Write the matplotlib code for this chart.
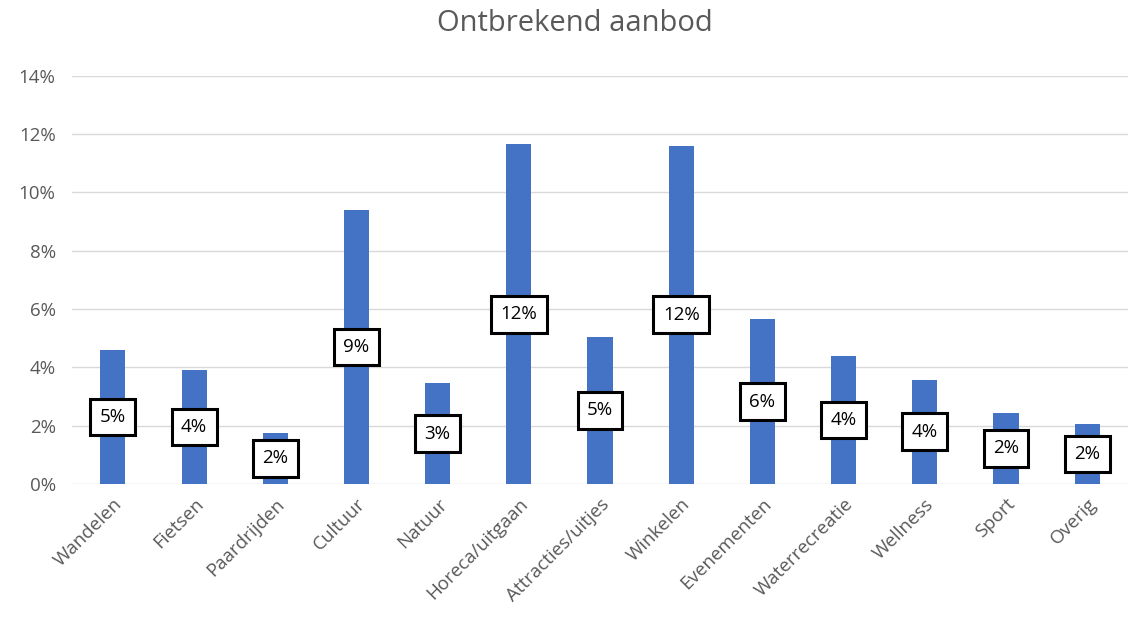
import numpy as np
import matplotlib.pyplot as plt
from matplotlib.ticker import FuncFormatter

categories = ['Wandelen', 'Fietsen', 'Paardrijden', 'Cultuur', 'Natuur',
              'Horeca/uitgaan', 'Attracties/uitjes', 'Winkelen', 'Evenementen',
              'Waterrecreatie', 'Wellness', 'Sport', 'Overig']
values = [4.6, 3.9, 1.75, 9.4, 3.45, 11.65, 5.05, 11.6, 5.65, 4.38, 3.58, 2.45, 2.05]

plt.rcParams['font.family'] = ['Open Sans', 'DejaVu Sans']
grey = '#595959'

fig = plt.figure(figsize=(11.3, 6.22), dpi=100)
ax = fig.add_axes([0.064, 0.222, 0.934, 0.656])

x = np.arange(len(categories))
ax.bar(x, values, width=0.31, color='#4472C4', zorder=2)

# data labels in the middle of each bar
for xi, v in zip(x, values):
    ax.text(xi, v / 2, '%d%%' % round(v), ha='center', va='center',
            fontsize=13.5, color='black', zorder=3,
            bbox=dict(boxstyle='square,pad=0.5', fc='white', ec='black', lw=2.2))

ax.set_xlim(-0.5, len(categories) - 0.5)
ax.set_ylim(0, 14)
ax.set_yticks(np.arange(0, 15, 2))
ax.yaxis.set_major_formatter(FuncFormatter(lambda v, p: '%d%%' % v))
ax.set_xticks(x)
ax.set_xticklabels(categories, rotation=45, ha='right', rotation_mode='anchor')
ax.tick_params(axis='both', length=0, labelsize=13.5, colors=grey)
ax.tick_params(axis='y', pad=12)
ax.tick_params(axis='x', pad=8)
ax.grid(axis='y', color='#D9D9D9', lw=1, zorder=0)
for s in ax.spines.values():
    s.set_visible(False)

fig.text(0.509, 0.962, 'Ontbrekend aanbod', ha='center', va='center',
         fontsize=21, color=grey)

fig.savefig('out.png', dpi=100)
